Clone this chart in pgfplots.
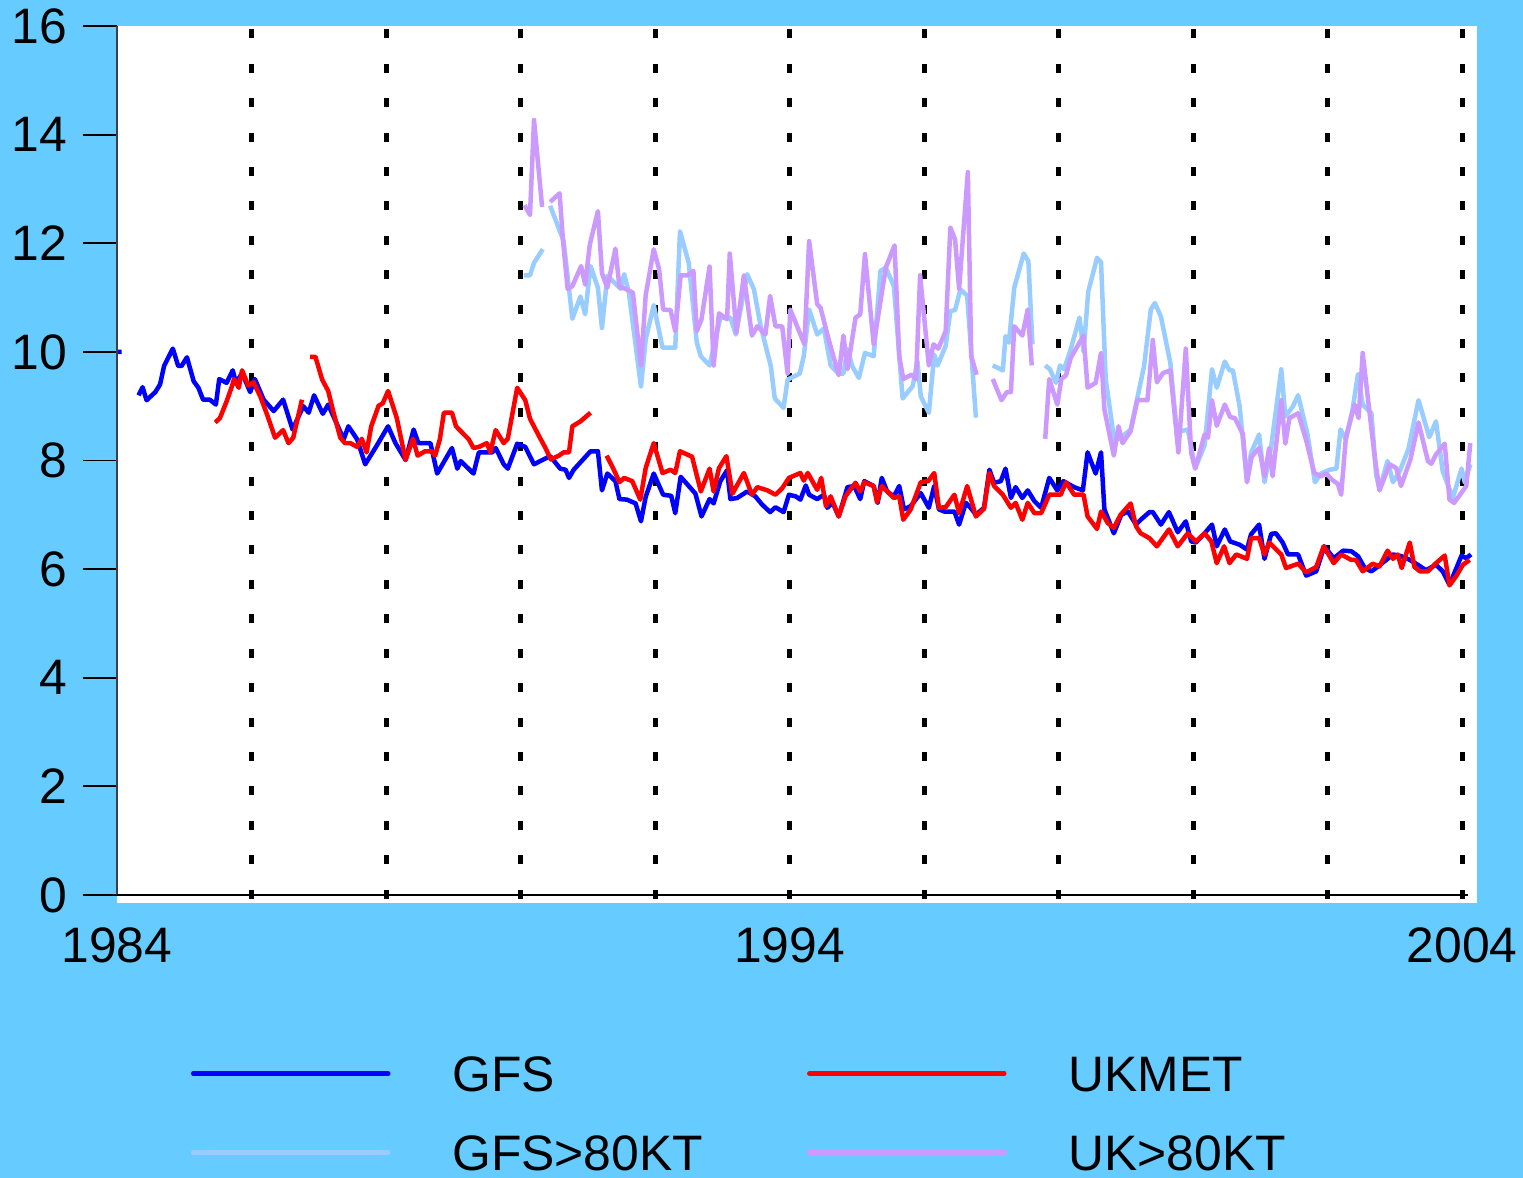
\documentclass[border=0pt]{standalone}
\usepackage{fontspec}
\setmainfont{Liberation Sans}
\usepackage{pgfplots}
\pgfplotsset{compat=1.18}
\definecolor{bgblue}{HTML}{66CCFF}
\definecolor{gfsc}{HTML}{0000FF}
\definecolor{ukc}{HTML}{FF0000}
\definecolor{gfs80}{HTML}{99CCFF}
\definecolor{uk80}{HTML}{CC99FF}
\begin{document}
\begin{tikzpicture}
\fill[bgblue] (-117bp,-275bp) rectangle (1406bp,903bp);
\begin{axis}[
  at={(0,0)}, anchor=south west,
  scale only axis, width=1360bp, height=877bp,
  xmin=1984, xmax=2004.22, ymin=-0.147, ymax=16,
  axis background/.style={fill=white},
  axis line style={draw=none},
  clip mode=individual,
  xtick={1984,1994,2004}, xticklabels={1984,1994,2004},
  ytick={0,2,...,16},
  ytick pos=left,
  xtick style={draw=none},
  ytick style={black, line width=1.8bp},
  tick align=outside,
  major tick length=34bp,
  every tick label/.append style={font=\fontsize{50}{60}\selectfont, text=black},
  /pgf/number format/assume math mode=true,
  yticklabel style={inner sep=0pt, xshift=-16bp},
  xticklabel style={inner sep=0pt, yshift=9bp},
  extra x ticks={1986,1988,1990,1992,1994,1996,1998,2000,2002,2004},
  extra x tick labels={},
  extra x tick style={grid=major, tick style={draw=none}, major grid style={black, line width=5bp, dash pattern=on 9bp off 25.4bp, dash phase=29.9bp}},
  unbounded coords=jump,
  every axis plot/.append style={line width=4.5bp, line join=round},
  legend columns=2,
  legend cell align=left,
  legend style={draw=none, fill=none, at={(axis description cs:0.0544,-0.1722)}, anchor=north west, inner sep=0pt, outer sep=0pt, font=\fontsize{50}{60}\selectfont, row sep=42bp, nodes={inner sep=0pt, text height=37bp, text depth=0pt}, /tikz/every odd column/.append style={column sep=62bp}, /tikz/every even column/.append style={column sep=104bp}},
  legend image code/.code={\draw[#1, line cap=round] (0bp,-1bp) -- (195bp,-1bp);},
]
\addplot[gfsc] coordinates {
(1984.00,10.00)(1984.07,10.00)(1984.2,nan)
(1984.32,9.20)(1984.38,9.35)(1984.44,9.11)(1984.57,9.26)(1984.64,9.40)(1984.70,9.74)(1984.83,10.06)(1984.91,9.74)(1984.96,9.74)(1985.04,9.90)(1985.14,9.46)(1985.21,9.34)(1985.28,9.12)(1985.38,9.12)(1985.47,9.03)(1985.52,9.50)(1985.63,9.43)(1985.72,9.66)(1985.77,9.43)(1985.86,9.61)(1985.98,9.26)(1986.05,9.50)(1986.18,9.12)(1986.33,8.91)(1986.47,9.12)(1986.61,8.57)(1986.77,9.00)(1986.85,8.88)(1986.93,9.20)(1987.06,8.86)(1987.14,9.03)(1987.37,8.39)
(1987.44,8.63)(1987.57,8.39)(1987.69,7.93)(1987.86,8.27)(1988.03,8.63)(1988.14,8.32)(1988.29,8.01)(1988.41,8.57)(1988.48,8.32)(1988.66,8.32)(1988.76,7.76)(1988.98,8.23)(1989.06,7.85)(1989.11,7.99)(1989.30,7.76)(1989.38,8.15)(1989.58,8.15)(1989.63,8.23)(1989.75,7.93)(1989.81,7.85)(1989.95,8.31)(1990.07,8.25)(1990.20,7.93)(1990.34,8.02)(1990.44,8.08)(1990.59,7.85)(1990.67,7.83)(1990.72,7.68)(1990.79,7.83)(1991.04,8.17)(1991.15,8.17)(1991.21,7.45)(1991.29,7.76)(1991.41,7.62)(1991.47,7.29)(1991.58,7.28)(1991.71,7.21)(1991.79,6.88)(1991.86,7.33)(1991.98,7.76)(1992.12,7.37)(1992.24,7.35)(1992.30,7.03)(1992.38,7.70)(1992.60,7.39)(1992.69,6.97)(1992.81,7.29)(1992.87,7.21)(1992.97,7.62)(1993.07,7.82)(1993.12,7.29)(1993.22,7.31)(1993.37,7.43)(1993.49,7.34)(1993.59,7.19)(1993.71,7.05)(1993.79,7.14)(1993.91,7.05)(1993.99,7.37)(1994.09,7.34)(1994.16,7.28)(1994.24,7.54)(1994.29,7.37)(1994.41,7.29)(1994.51,7.37)(1994.56,7.13)(1994.64,7.22)(1994.73,6.97)(1994.86,7.51)(1994.96,7.53)(1995.05,7.29)(1995.11,7.62)(1995.25,7.53)(1995.31,7.22)(1995.37,7.68)(1995.45,7.43)(1995.55,7.34)(1995.63,7.53)(1995.70,7.10)(1995.80,7.16)(1995.95,7.40)(1996.07,7.13)(1996.15,7.53)(1996.22,7.10)(1996.30,7.06)(1996.45,7.06)(1996.52,6.82)(1996.62,7.22)(1996.69,7.13)(1996.77,7.00)(1996.89,7.13)(1996.97,7.83)(1997.04,7.59)(1997.14,7.62)(1997.21,7.85)(1997.29,7.31)(1997.36,7.51)(1997.46,7.31)(1997.54,7.45)(1997.64,7.25)(1997.74,7.13)(1997.86,7.68)(1997.98,7.45)(1998.07,7.62)(1998.23,7.51)(1998.36,7.45)(1998.43,8.15)(1998.55,7.76)(1998.63,8.15)(1998.68,7.10)(1998.82,6.66)(1998.93,7.00)(1999.03,7.06)(1999.15,6.82)
(1999.22,6.91)(1999.35,7.05)(1999.40,7.05)(1999.52,6.82)(1999.64,7.05)(1999.77,6.68)(1999.89,6.88)(1999.97,6.51)(2000.04,6.49)(2000.17,6.66)(2000.28,6.82)(2000.35,6.42)(2000.47,6.73)(2000.55,6.51)(2000.69,6.45)(2000.80,6.36)(2000.86,6.64)(2000.98,6.82)(2001.06,6.19)(2001.16,6.65)(2001.23,6.66)(2001.33,6.49)(2001.41,6.27)(2001.56,6.27)(2001.68,5.88)(2001.83,5.96)(2001.95,6.42)(2002.09,6.20)(2002.23,6.34)(2002.35,6.33)(2002.45,6.24)(2002.55,6.02)(2002.65,5.96)(2002.75,6.05)(2002.87,6.17)(2002.97,6.27)(2003.09,6.24)(2003.22,6.17)(2003.34,6.08)(2003.46,5.98)(2003.61,6.08)(2003.71,5.96)(2003.81,5.71)(2003.99,6.25)(2004.06,6.20)(2004.13,6.27)
};
\addlegendentry{GFS}
\addplot[ukc] coordinates {
(1985.46,8.70)(1985.53,8.78)(1985.63,9.09)(1985.71,9.37)(1985.74,9.50)(1985.81,9.34)(1985.86,9.66)(1985.95,9.38)(1986.03,9.44)(1986.13,9.18)(1986.23,8.85)(1986.35,8.42)(1986.47,8.56)(1986.55,8.32)(1986.62,8.42)(1986.75,9.12)(1986.81,nan)
(1986.87,9.91)(1986.95,9.91)(1987.05,9.49)(1987.14,9.28)(1987.22,8.88)(1987.32,8.42)(1987.39,8.32)(1987.47,8.32)(1987.57,8.25)(1987.64,8.40)(1987.71,8.15)(1987.78,8.63)(1987.89,9.01)(1987.95,9.05)(1988.03,9.28)(1988.16,8.78)(1988.29,8.01)(1988.40,8.40)(1988.47,8.09)(1988.58,8.17)(1988.68,8.17)(1988.73,8.09)(1988.80,8.39)(1988.86,8.88)(1988.98,8.88)(1989.04,8.63)(1989.23,8.39)(1989.30,8.23)(1989.38,8.25)(1989.50,8.32)(1989.55,8.15)(1989.63,8.56)(1989.75,8.32)(1989.81,8.40)(1989.95,9.34)(1990.07,9.11)(1990.14,8.77)(1990.27,8.46)(1990.37,8.23)(1990.45,8.02)(1990.57,8.09)(1990.64,8.15)(1990.72,8.15)(1990.77,8.63)(1990.89,8.72)(1991.04,8.88)(1991.15,nan)
(1991.28,8.09)(1991.39,7.82)(1991.47,7.60)(1991.54,7.68)(1991.66,7.62)(1991.78,7.28)(1991.86,7.86)(1991.98,8.32)(1992.11,7.77)(1992.23,7.83)(1992.30,7.77)(1992.37,8.17)(1992.55,8.07)(1992.68,7.43)(1992.81,7.85)(1992.87,7.43)(1992.95,7.86)(1993.06,8.08)(1993.15,7.39)(1993.32,7.77)(1993.44,7.37)(1993.52,7.51)(1993.67,7.45)(1993.79,7.37)(1993.89,7.49)(1993.99,7.68)(1994.16,7.77)(1994.21,7.63)(1994.27,7.77)(1994.41,7.46)(1994.47,7.68)(1994.54,7.16)(1994.61,7.34)(1994.73,6.97)(1994.83,7.34)(1994.98,7.59)(1995.05,7.43)(1995.11,7.60)(1995.25,7.53)(1995.30,7.23)(1995.37,7.53)(1995.55,7.31)(1995.63,7.34)(1995.69,6.91)(1995.80,7.10)(1995.95,7.60)(1996.06,7.62)(1996.15,7.77)(1996.22,7.13)(1996.32,7.14)(1996.45,7.37)(1996.52,7.03)(1996.64,7.53)(1996.77,6.97)(1996.89,7.11)(1996.97,7.77)(1997.04,7.53)(1997.17,7.37)(1997.29,7.13)(1997.36,7.22)(1997.46,6.91)(1997.54,7.22)(1997.64,7.03)(1997.74,7.03)(1997.86,7.37)(1998.03,7.37)(1998.11,7.60)(1998.23,7.37)(1998.37,7.37)(1998.43,6.97)(1998.57,6.74)(1998.63,7.06)(1998.73,6.85)(1998.82,6.76)(1998.92,7.00)(1999.07,7.21)(1999.15,6.79)(1999.22,6.66)(1999.35,6.57)(1999.46,6.42)(1999.64,6.73)(1999.77,6.42)(1999.92,6.66)(2000.04,6.51)(2000.17,6.66)(2000.27,6.51)(2000.35,6.11)(2000.46,6.42)(2000.54,6.11)(2000.64,6.27)(2000.80,6.19)(2000.86,6.57)(2000.98,6.57)(2001.06,6.27)(2001.13,6.49)(2001.31,6.27)(2001.38,6.02)(2001.56,6.10)(2001.68,5.94)(2001.83,6.04)(2001.94,6.42)(2002.09,6.11)(2002.20,6.27)(2002.35,6.17)(2002.42,6.17)(2002.52,5.96)(2002.67,6.10)(2002.77,6.05)(2002.89,6.34)(2002.97,6.19)(2003.04,6.27)(2003.10,6.02)(2003.22,6.49)(2003.29,6.04)(2003.37,5.96)(2003.49,5.96)(2003.61,6.11)(2003.74,6.25)(2003.81,5.70)(2003.91,5.87)(2004.01,6.08)(2004.11,6.17)
};
\addlegendentry{UKMET}
\addplot[gfs80] coordinates {
(1990.05,11.41)(1990.14,11.41)(1990.20,11.64)(1990.33,11.89)(1990.38,nan)
(1990.44,12.69)(1990.64,12.04)(1990.77,10.61)(1990.89,11.02)(1990.96,10.69)(1991.04,11.58)(1991.15,11.18)(1991.21,10.44)(1991.29,11.40)(1991.49,11.16)(1991.54,11.43)(1991.61,11.09)(1991.79,9.36)(1991.86,10.23)(1991.98,10.86)(1992.11,10.08)(1992.30,10.08)(1992.37,12.22)(1992.50,11.64)(1992.62,10.17)(1992.68,9.92)(1992.81,9.75)(1992.97,10.63)(1993.12,10.63)(1993.20,10.32)(1993.37,11.43)(1993.47,11.15)(1993.57,10.47)(1993.72,9.74)(1993.78,9.14)(1993.91,8.97)(1993.97,9.49)(1994.15,9.60)(1994.21,9.92)(1994.29,10.78)(1994.41,10.32)(1994.51,10.43)(1994.61,9.75)(1994.73,9.60)(1994.80,9.60)(1994.86,10.05)(1994.93,9.74)(1995.03,9.52)(1995.12,9.98)(1995.25,9.92)(1995.35,11.49)(1995.43,11.55)(1995.55,11.21)(1995.68,9.14)(1995.83,9.37)(1995.90,9.83)(1995.95,9.18)(1996.07,8.88)(1996.15,9.95)(1996.20,9.75)(1996.32,10.11)(1996.39,10.75)(1996.46,10.77)(1996.54,11.15)(1996.64,11.03)(1996.77,8.79)(1996.90,nan)
(1997.02,9.75)(1997.17,9.66)(1997.21,10.29)(1997.26,10.17)(1997.34,11.18)(1997.48,11.81)(1997.55,11.67)(1997.61,10.14)(1997.70,nan)
(1997.80,9.75)(1997.87,9.68)(1997.96,9.43)(1998.02,9.75)(1998.08,9.68)(1998.18,10.05)(1998.31,10.63)(1998.37,10.01)(1998.44,11.11)(1998.57,11.73)(1998.63,11.65)(1998.70,9.49)(1998.83,8.35)(1998.93,8.43)(1999.07,8.57)(1999.27,9.74)(1999.37,10.78)(1999.43,10.90)(1999.52,10.65)(1999.66,9.80)(1999.76,8.48)(1999.82,8.54)(1999.92,8.57)(2000.03,7.86)(2000.17,8.28)(2000.28,9.68)(2000.35,9.34)(2000.47,9.82)(2000.54,9.66)(2000.59,9.66)(2000.69,9.00)(2000.80,7.62)(2000.86,8.14)(2000.98,8.48)(2001.06,7.60)(2001.16,8.26)(2001.31,9.68)(2001.37,8.81)(2001.48,8.99)(2001.56,9.20)(2001.70,8.48)(2001.81,7.60)(2001.90,7.76)(2002.03,7.83)(2002.13,7.85)(2002.19,8.57)(2002.27,8.39)(2002.37,8.94)(2002.45,9.59)(2002.52,9.03)(2002.65,8.87)(2002.72,7.74)(2002.77,7.47)(2002.89,7.99)(2002.97,7.60)(2003.07,7.80)(2003.20,8.21)(2003.35,9.11)(2003.51,8.43)(2003.61,8.72)(2003.71,7.80)(2003.86,7.31)(2003.99,7.85)(2004.04,7.59)(2004.12,7.93)
};
\addlegendentry{GFS>80KT}
\addplot[uk80] coordinates {
(1990.06,12.70)(1990.14,12.52)(1990.20,14.27)(1990.32,12.67)(1990.38,nan)
(1990.44,12.76)(1990.58,12.92)(1990.63,12.06)(1990.70,11.16)(1990.77,11.21)(1990.90,11.58)(1990.96,11.24)(1991.03,11.98)(1991.15,12.59)(1991.21,11.45)(1991.29,11.18)(1991.41,11.90)(1991.47,11.20)(1991.56,11.16)(1991.67,11.09)(1991.79,9.75)(1991.86,11.04)(1991.98,11.89)(1992.06,11.52)(1992.12,10.78)(1992.23,10.77)(1992.30,10.38)(1992.38,11.41)(1992.48,11.41)(1992.57,11.49)(1992.62,10.38)(1992.69,10.60)(1992.81,11.57)(1992.87,9.75)(1992.95,10.71)(1993.07,10.60)(1993.11,11.81)(1993.21,10.36)(1993.32,11.41)(1993.44,10.30)(1993.52,10.47)(1993.64,10.32)(1993.71,11.03)(1993.79,10.47)(1993.89,10.47)(1993.97,9.60)(1994.01,10.78)(1994.22,10.14)(1994.29,12.04)(1994.41,10.88)(1994.46,10.81)(1994.58,10.23)(1994.73,9.57)(1994.80,10.30)(1994.86,9.68)(1994.98,10.63)(1995.05,10.69)(1995.12,11.80)(1995.25,10.14)(1995.43,11.55)(1995.56,11.96)(1995.63,9.92)(1995.69,9.50)(1995.81,9.58)(1995.88,9.50)(1995.94,11.41)(1996.07,9.75)(1996.14,10.14)(1996.21,10.06)(1996.32,10.38)(1996.39,12.29)(1996.46,12.07)(1996.52,11.16)(1996.65,13.31)(1996.70,9.92)(1996.78,9.58)(1996.90,nan)
(1997.02,9.50)(1997.15,9.11)(1997.23,9.26)(1997.29,9.26)(1997.34,10.47)(1997.46,10.30)(1997.54,10.78)(1997.60,9.75)(1997.70,nan)
(1997.80,8.40)(1997.86,9.50)(1997.98,9.03)(1998.04,9.50)(1998.11,9.57)(1998.18,9.89)(1998.37,10.30)(1998.43,9.34)(1998.55,9.43)(1998.63,9.98)(1998.68,8.94)(1998.82,8.09)(1998.89,8.63)(1998.95,8.32)(1999.07,8.54)(1999.17,9.11)(1999.32,9.11)(1999.40,10.22)(1999.46,9.44)(1999.55,9.61)(1999.66,9.66)(1999.78,8.15)(1999.89,10.06)(1999.97,8.14)(2000.03,7.85)(2000.17,8.48)(2000.22,8.42)(2000.28,9.11)(2000.35,8.64)(2000.47,9.03)(2000.55,8.80)(2000.62,8.78)(2000.74,8.48)(2000.80,7.60)(2000.87,8.07)(2000.98,8.23)(2001.06,7.71)(2001.13,8.23)(2001.18,7.71)(2001.31,9.11)(2001.37,8.31)(2001.43,8.78)(2001.56,8.87)(2001.68,8.37)(2001.80,7.77)(2001.90,7.71)(2001.98,7.76)(2002.06,7.65)(2002.15,7.57)(2002.20,7.37)(2002.27,8.42)(2002.40,9.03)(2002.46,8.78)(2002.52,9.98)(2002.70,8.05)(2002.77,7.45)(2002.92,7.93)(2003.02,7.86)(2003.09,7.53)(2003.23,8.02)(2003.35,8.70)(2003.49,7.99)(2003.54,7.94)(2003.61,8.11)(2003.74,8.31)(2003.81,7.28)(2003.88,7.22)(2004.06,7.53)(2004.12,8.32)
};
\addlegendentry{UK>80KT}
\draw[black!75, line width=2bp] (axis cs:1984,0) -- (axis cs:1984,16);
\draw[black, line width=2bp] (axis cs:1984,0) -- (axis cs:2004.09,0);
\end{axis}
\pgfresetboundingbox
\useasboundingbox (-117bp,-275bp) rectangle (1406bp,903bp);
\end{tikzpicture}
\end{document}
